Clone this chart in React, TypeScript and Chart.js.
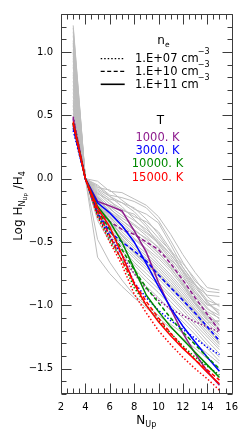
import React, { useEffect, useRef } from 'react';
import { Chart, registerables } from 'chart.js';

Chart.register(...registerables);

// ---------- data ----------
const N_UP = [3, 4, 5, 6, 7, 8, 9, 10, 11, 12, 13, 14, 15];
const X_TICKS = [2, 4, 6, 8, 10, 12, 14, 16];
const Y_TICKS = [-1.5, -1.0, -0.5, 0.0, 0.5, 1.0];
const DENSITY_LABELS = ['1.E+07 cm', '1.E+10 cm', '1.E+11 cm'];
const TEMP_LABELS = ['1000. K', '3000. K', '10000. K', '15000. K'];
const TEMP_COLORS = ['#8e1c8e', '#0000ff', '#008a00', '#ff0000'];

// model curves, log(H_N / H_4), one value per N_UP
const T1000_NE07 = [0.49, 0, -0.28, -0.45, -0.60, -0.75, -0.87, -0.96, -1.03, -1.08, -1.13, -1.17, -1.21];
const T1000_NE10 = [0.48, 0, -0.25, -0.34, -0.40, -0.44, -0.50, -0.56, -0.67, -0.80, -0.94, -1.07, -1.20];
const T1000_NE11 = [0.47, 0, -0.18, -0.215, -0.255, -0.41, -0.58, -0.82, -1.03, -1.22, -1.38, -1.52, -1.63];

const T3000_NE07 = [0.38, 0, -0.28, -0.46, -0.60, -0.82, -0.94, -1.04, -1.12, -1.19, -1.26, -1.33, -1.39];
const T3000_NE10 = [0.40, 0, -0.27, -0.42, -0.50, -0.57, -0.65, -0.76, -0.86, -0.96, -1.06, -1.17, -1.28];
const T3000_NE11 = [0.42, 0, -0.19, -0.27, -0.37, -0.50, -0.67, -0.85, -1.02, -1.165, -1.29, -1.41, -1.52];

const T10000_NE07 = [0.43, 0, -0.29, -0.48, -0.64, -0.86, -1.00, -1.12, -1.22, -1.32, -1.41, -1.48, -1.55];
const T10000_NE10 = [0.44, 0, -0.25, -0.40, -0.56, -0.72, -0.86, -0.98, -1.10, -1.21, -1.31, -1.41, -1.50];
const T10000_NE11 = [0.44, 0, -0.22, -0.34, -0.50, -0.71, -0.92, -1.05, -1.17, -1.27, -1.37, -1.47, -1.57];

const T15000_NE07 = [0.45, 0, -0.30, -0.50, -0.68, -0.91, -1.06, -1.20, -1.31, -1.41, -1.50, -1.58, -1.67];
const T15000_NE10 = [0.44, 0, -0.26, -0.45, -0.65, -0.82, -0.97, -1.10, -1.22, -1.33, -1.43, -1.51, -1.59];
const T15000_NE11 = [0.43, 0, -0.23, -0.38, -0.60, -0.83, -1.00, -1.13, -1.24, -1.34, -1.43, -1.53, -1.62];

// observed decrements (grey)
const OBS_GREY = [
  [0.62, 0, -0.02, -0.10, -0.11, -0.16, -0.21, -0.30, -0.44, -0.60, -0.74, -0.86, -0.88],
  [1.21, 0, -0.05, -0.13, -0.15, -0.18, -0.23, -0.33, -0.49, -0.66, -0.81, -0.89, -0.90],
  [0.88, 0, -0.07, -0.09, -0.17, -0.24, -0.28, -0.35, -0.52, -0.70, -0.84, -0.92, -0.93],
  [1.16, 0, -0.09, -0.16, -0.19, -0.23, -0.32, -0.44, -0.58, -0.70, -0.83, -0.96, -1.00],
  [0.74, 0, -0.10, -0.18, -0.24, -0.30, -0.34, -0.42, -0.56, -0.74, -0.90, -0.99, -1.04],
  [1.09, 0, -0.12, -0.17, -0.27, -0.33, -0.40, -0.49, -0.60, -0.72, -0.86, -0.97, -1.06],
  [0.55, 0, -0.13, -0.22, -0.29, -0.36, -0.43, -0.51, -0.62, -0.76, -0.92, -1.03, -1.08],
  [1.02, 0, -0.14, -0.24, -0.31, -0.37, -0.45, -0.55, -0.65, -0.78, -0.90, -1.02, -1.11],
  [0.97, 0, -0.15, -0.23, -0.33, -0.41, -0.47, -0.54, -0.67, -0.82, -0.96, -1.05, -1.10],
  [0.68, 0, -0.16, -0.26, -0.35, -0.43, -0.50, -0.59, -0.69, -0.80, -0.93, -1.06, -1.15],
  [1.13, 0, -0.16, -0.27, -0.37, -0.44, -0.52, -0.61, -0.71, -0.83, -0.97, -1.08, -1.16],
  [0.80, 0, -0.17, -0.29, -0.38, -0.47, -0.55, -0.63, -0.73, -0.85, -0.98, -1.09, -1.18],
  [0.93, 0, -0.18, -0.30, -0.40, -0.48, -0.56, -0.66, -0.76, -0.87, -0.99, -1.11, -1.19],
  [0.58, 0, -0.19, -0.31, -0.42, -0.51, -0.59, -0.68, -0.78, -0.89, -1.01, -1.12, -1.21],
  [1.05, 0, -0.20, -0.33, -0.44, -0.53, -0.61, -0.70, -0.80, -0.91, -1.03, -1.14, -1.23],
  [0.71, 0, -0.21, -0.34, -0.45, -0.55, -0.63, -0.72, -0.82, -0.93, -1.05, -1.16, -1.25],
  [0.84, 0, -0.22, -0.36, -0.47, -0.57, -0.66, -0.75, -0.85, -0.95, -1.06, -1.17, -1.27],
  [0.49, 0, -0.23, -0.37, -0.49, -0.59, -0.68, -0.77, -0.87, -0.97, -1.08, -1.19, -1.29],
  [0.99, 0, -0.24, -0.39, -0.51, -0.61, -0.70, -0.79, -0.89, -0.99, -1.10, -1.21, -1.31],
  [0.65, 0, -0.25, -0.40, -0.53, -0.63, -0.72, -0.82, -0.92, -1.02, -1.12, -1.23, -1.33],
  [0.77, 0, -0.26, -0.42, -0.55, -0.66, -0.75, -0.84, -0.94, -1.04, -1.15, -1.25, -1.35],
  [0.52, 0, -0.28, -0.44, -0.57, -0.68, -0.78, -0.87, -0.97, -1.07, -1.17, -1.28, -1.38],
  [0.90, 0, -0.30, -0.47, -0.60, -0.71, -0.81, -0.90, -1.00, -1.10, -1.20, -1.31, -1.41],
  [0.46, 0, -0.33, -0.50, -0.64, -0.75, -0.85, -0.94, -1.04, -1.13, -1.23, -1.34, -1.44],
  [0.60, 0, -0.48, -0.66, -0.80, -0.92, -1.00, -1.08, -1.15, -1.22, -1.30, -1.38, -1.46],
  [0.42, 0, -0.62, -0.75, -0.85, -0.94, -1.02, -1.10, -1.18, -1.26, -1.34, -1.42, -1.50],
  [1.19, 0, -0.06, -0.14, -0.19, -0.26, -0.36, -0.47, -0.57, -0.67, -0.79, -0.93, -1.01],
  [0.95, 0, -0.11, -0.20, -0.25, -0.28, -0.38, -0.52, -0.64, -0.73, -0.84, -0.98, -1.07],
  [1.07, 0, -0.15, -0.26, -0.33, -0.40, -0.48, -0.58, -0.70, -0.84, -0.99, -1.10, -1.13],
  [0.82, 0, -0.19, -0.33, -0.45, -0.55, -0.64, -0.74, -0.84, -0.94, -1.04, -1.14, -1.12],
  [1.00, 0, -0.08, -0.14, -0.22, -0.32, -0.42, -0.50, -0.60, -0.73, -0.88, -1.00, -0.99],
  [0.57, 0, -0.24, -0.38, -0.48, -0.58, -0.67, -0.76, -0.86, -0.96, -1.07, -1.18, -1.30],
];

const MODEL_SETS = [
  [T1000_NE07, T1000_NE10, T1000_NE11],
  [T3000_NE07, T3000_NE10, T3000_NE11],
  [T10000_NE07, T10000_NE10, T10000_NE11],
  [T15000_NE07, T15000_NE10, T15000_NE11],
];

// ---------- styling ----------
const FONT = '"DejaVu Sans", "Liberation Sans", sans-serif';
const DOTTED = [1.5, 2];
const DASHED = [4, 2.5];
const DENS_DASH = [DOTTED, DASHED, []];
const FRAME = '#3c3c3c';

type Part = [string, number, number];

function drawParts(ctx: CanvasRenderingContext2D, x: number, y: number, parts: Part[], center: boolean) {
  let total = 0;
  for (const p of parts) {
    ctx.font = `${p[1]}px ${FONT}`;
    total += ctx.measureText(p[0]).width;
  }
  let cx = center ? x - total / 2 : x;
  for (const p of parts) {
    ctx.font = `${p[1]}px ${FONT}`;
    ctx.fillText(p[0], cx, y + p[2]);
    cx += ctx.measureText(p[0]).width;
  }
}

const framePlugin = {
  id: 'idlFrame',
  afterDraw(chart: any) {
    const { ctx, chartArea, scales } = chart;
    const { left, right, top, bottom } = chartArea;
    const xs = scales.x;
    const ys = scales.y;
    ctx.save();
    ctx.strokeStyle = FRAME;
    ctx.lineWidth = 1;
    const L = Math.round(left) + 0.5;
    const R = Math.round(right) + 0.5;
    const T = Math.round(top) + 0.5;
    const B = Math.round(bottom) - 0.5;
    ctx.beginPath();
    ctx.rect(L, T, R - L, B - T);
    ctx.stroke();
    ctx.beginPath();
    for (let k = 4; k <= 32; k++) {
      const v = k / 2;
      const px = Math.round(xs.getPixelForValue(v)) + 0.5;
      const len = k % 4 === 0 ? 10 : 5;
      ctx.moveTo(px, B);
      ctx.lineTo(px, B - len);
      ctx.moveTo(px, T);
      ctx.lineTo(px, T + len);
    }
    for (let k = -17; k <= 13; k++) {
      const v = k / 10;
      const py = Math.round(ys.getPixelForValue(v)) + 0.5;
      const len = k % 5 === 0 ? 10 : 5;
      ctx.moveTo(L, py);
      ctx.lineTo(L + len, py);
      ctx.moveTo(R, py);
      ctx.lineTo(R - len, py);
    }
    ctx.stroke();

    // axis titles
    ctx.fillStyle = '#000';
    ctx.textBaseline = 'alphabetic';
    ctx.textAlign = 'left';
    const cxMid = (left + right) / 2;
    drawParts(ctx, cxMid, 423.5, [['N', 12, 0], ['Up', 8, 3.5]], true);

    ctx.save();
    ctx.translate(21.5, (top + bottom) / 2 + 2);
    ctx.rotate(-Math.PI / 2);
    drawParts(
      ctx,
      0,
      0,
      [
        ['Log H', 12, 0],
        ['N', 8, 3],
        ['Up', 5.5, 5],
        [' /H', 12, 0],
        ['4', 8, 3],
      ],
      true
    );
    ctx.restore();

    // legend: electron density
    ctx.fillStyle = '#000';
    drawParts(ctx, 157.3, 43.5, [['n', 12, 0], ['e', 7.5, 3]], false);
    const rowY = [58.7, 71.3, 84.3];
    const textY = [62, 74.8, 87.6];
    for (let i = 0; i < 3; i++) {
      ctx.save();
      ctx.strokeStyle = '#000';
      ctx.lineWidth = i === 2 ? 1.6 : 1.3;
      ctx.setLineDash(DENS_DASH[i]);
      ctx.beginPath();
      ctx.moveTo(100.7, rowY[i]);
      ctx.lineTo(124.7, rowY[i]);
      ctx.stroke();
      ctx.restore();
      ctx.font = `11.5px ${FONT}`;
      ctx.fillText(DENSITY_LABELS[i], 135, textY[i]);
      const w = ctx.measureText(DENSITY_LABELS[i]).width;
      ctx.font = `8px ${FONT}`;
      ctx.fillText('\u22123', 135 + w - 1, textY[i] - 7.8);
    }
    // legend: temperature
    ctx.textAlign = 'center';
    ctx.font = `12px ${FONT}`;
    ctx.fillStyle = '#000';
    ctx.fillText('T', 160.5, 124);
    ctx.font = `11.5px ${FONT}`;
    for (let i = 0; i < TEMP_LABELS.length; i++) {
      ctx.fillStyle = TEMP_COLORS[i];
      ctx.fillText(TEMP_LABELS[i], 157.5, 140.7 + i * 13.33);
    }
    ctx.restore();
  },
};

export default function App() {
  const ref = useRef<HTMLCanvasElement | null>(null);

  useEffect(() => {
    const canvas = ref.current;
    if (!canvas) return;

    const datasets: any[] = [];
    OBS_GREY.forEach((row, i) => {
      datasets.push({
        label: `obs ${i + 1}`,
        data: N_UP.map((n, j) => ({ x: n, y: row[j] })),
        borderColor: '#bdbdbd',
        borderWidth: 1,
        pointRadius: 0,
        fill: false,
        tension: 0,
        order: 100,
      });
    });
    MODEL_SETS.forEach((set, t) => {
      set.forEach((row, d) => {
        datasets.push({
          label: `${TEMP_LABELS[t]} ${DENSITY_LABELS[d]}`,
          data: N_UP.map((n, j) => ({ x: n, y: row[j] })),
          borderColor: TEMP_COLORS[t],
          borderWidth: 1.5,
          borderDash: DENS_DASH[d],
          pointRadius: 0,
          fill: false,
          tension: 0,
          order: 40 - t * 10 - d,
        });
      });
    });

    const tickFont = { family: FONT, size: 10 };
    const chart = new Chart(canvas, {
      type: 'line',
      data: { datasets },
      options: {
        animation: false,
        responsive: false,
        maintainAspectRatio: false,
        devicePixelRatio: 1,
        layout: { padding: { top: 9, right: 10, left: 0, bottom: 0 } },
        plugins: {
          legend: { display: false },
          tooltip: { enabled: false },
        },
        scales: {
          x: {
            type: 'linear',
            min: 2,
            max: 16,
            grid: { display: false, drawTicks: false },
            border: { display: false },
            ticks: {
              font: tickFont,
              color: '#000',
              padding: 7,
              maxRotation: 0,
              autoSkip: false,
              callback: (v: any) => String(v),
            },
            afterBuildTicks: (s: any) => {
              s.ticks = X_TICKS.map((v) => ({ value: v }));
            },
            afterFit: (s: any) => {
              s.height = 44;
            },
          },
          y: {
            type: 'linear',
            min: -1.7,
            max: 1.3,
            grid: { display: false, drawTicks: false },
            border: { display: false },
            ticks: {
              font: tickFont,
              color: '#000',
              padding: 8,
              autoSkip: false,
              callback: (v: any) => {
                const n = Number(v);
                return (n < -1e-9 ? '\u2212' : '') + Math.abs(n).toFixed(1);
              },
            },
            afterBuildTicks: (s: any) => {
              s.ticks = Y_TICKS.map((v) => ({ value: v }));
            },
            afterFit: (s: any) => {
              s.width = 61;
            },
          },
        },
      },
      plugins: [framePlugin],
    });

    return () => chart.destroy();
  }, []);

  return (
    <div style={{ position: 'fixed', left: 0, top: 0, width: 245, height: 438, background: '#fff' }}>
      <canvas ref={ref} width={245} height={438} style={{ width: 245, height: 438, display: 'block' }} />
    </div>
  );
}
